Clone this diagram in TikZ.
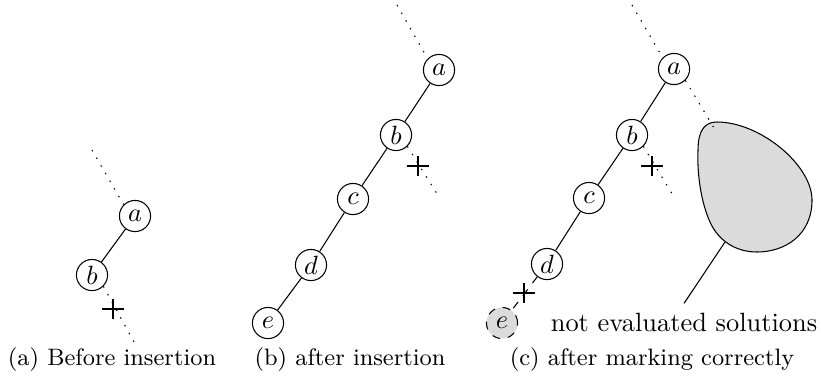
\documentclass[tikz,border=0pt]{standalone}
\usepackage{amsmath}
\usepackage{tikz}
\usetikzlibrary{arrows.meta,shapes}

\begin{document}
\begin{tikzpicture}[x=0.379pt,y=-0.379pt,
  vertex/.style={circle,draw,inner sep=0pt,minimum size=11.8pt},
  dots/.style={dash pattern=on 0.55pt off 2.8pt},
  caption/.style={font=\small}]
\useasboundingbox (0,0) rectangle (821,386);
%%% (a) before insertion
\node[vertex](a1) at (135,216){$a$};
\node[vertex](b1) at (92,275){$b$};
\coordinate (top1) at (92,150);
\coordinate (low1) at (134,342);
\coordinate (x1) at (113,309);
\draw[dots](top1)--(a1.north west);
\draw(a1)--(b1);
\draw[dots](b1.south east)--(low1);
\draw(x1)+(-11,0)--+(11,0) (x1)+(0,-10)--+(0,10);
\node[caption](cap1) at (112,360){(a) Before insertion};
%%% (b) after insertion
\node[vertex](a2) at (439,70){$a$};
\node[vertex](b2) at (396,135){$b$};
\node[vertex](c2) at (353,199){$c$};
\node[vertex](d2) at (311,265){$d$};
\node[vertex](e2) at (268,323){$e$};
\coordinate (top2) at (397,5);
\coordinate (low2) at (439,197);
\coordinate (x2) at (418,166);
\draw[dots](top2)--(a2.north west);
\draw(a2)--(b2)--(c2)--(d2)--(e2);
\draw[dots](b2.south east)--(low2);
\draw(x2)+(-11,0)--+(11,0) (x2)+(0,-10)--+(0,10);
\node[caption](cap2) at (350,360){(b) after insertion};
%%% (c) after marking correctly
\node[vertex](a3) at (674,69){$a$};
\node[vertex](b3) at (632,135){$b$};
\node[vertex](c3) at (589,198){$c$};
\node[vertex](d3) at (547,264){$d$};
\node[vertex,dashed,fill=gray!28](e3) at (502,323){$e$};
\coordinate (top3) at (632,5);
\coordinate (low3) at (674,197);
\coordinate (x3) at (652,166);
\coordinate (x4) at (524,293);
\draw[dots](top3)--(a3.north west);
\draw(a3)--(b3)--(c3)--(d3);
\draw[dashed](d3)--(e3);
\draw[dots](b3.south east)--(low3);
\draw(x3)+(-11,0)--+(11,0) (x3)+(0,-10)--+(0,10);
\draw(x4)+(-11,0)--+(11,0) (x4)+(0,-10)--+(0,10);
\draw[fill=gray!28](717,122)..controls(760,122)and(812,165)..(812,200)
  ..controls(812,235)and(785,252)..(757,252)
  ..controls(735,252)and(718,240)..(710,222)
  ..controls(700,200)and(697,170)..(698,150)
  ..controls(698,130)and(705,122)..(717,122)--cycle;
\coordinate (in3) at (717,133);
\coordinate (root3) at (725,242);
\draw[dots](a3.south east)--(in3);
\node(lbl3) at (684,322){not evaluated solutions};
\draw(root3)--(lbl3.north);
\node[caption](cap3) at (652,360){(c) after marking correctly};
\end{tikzpicture}
\end{document}
